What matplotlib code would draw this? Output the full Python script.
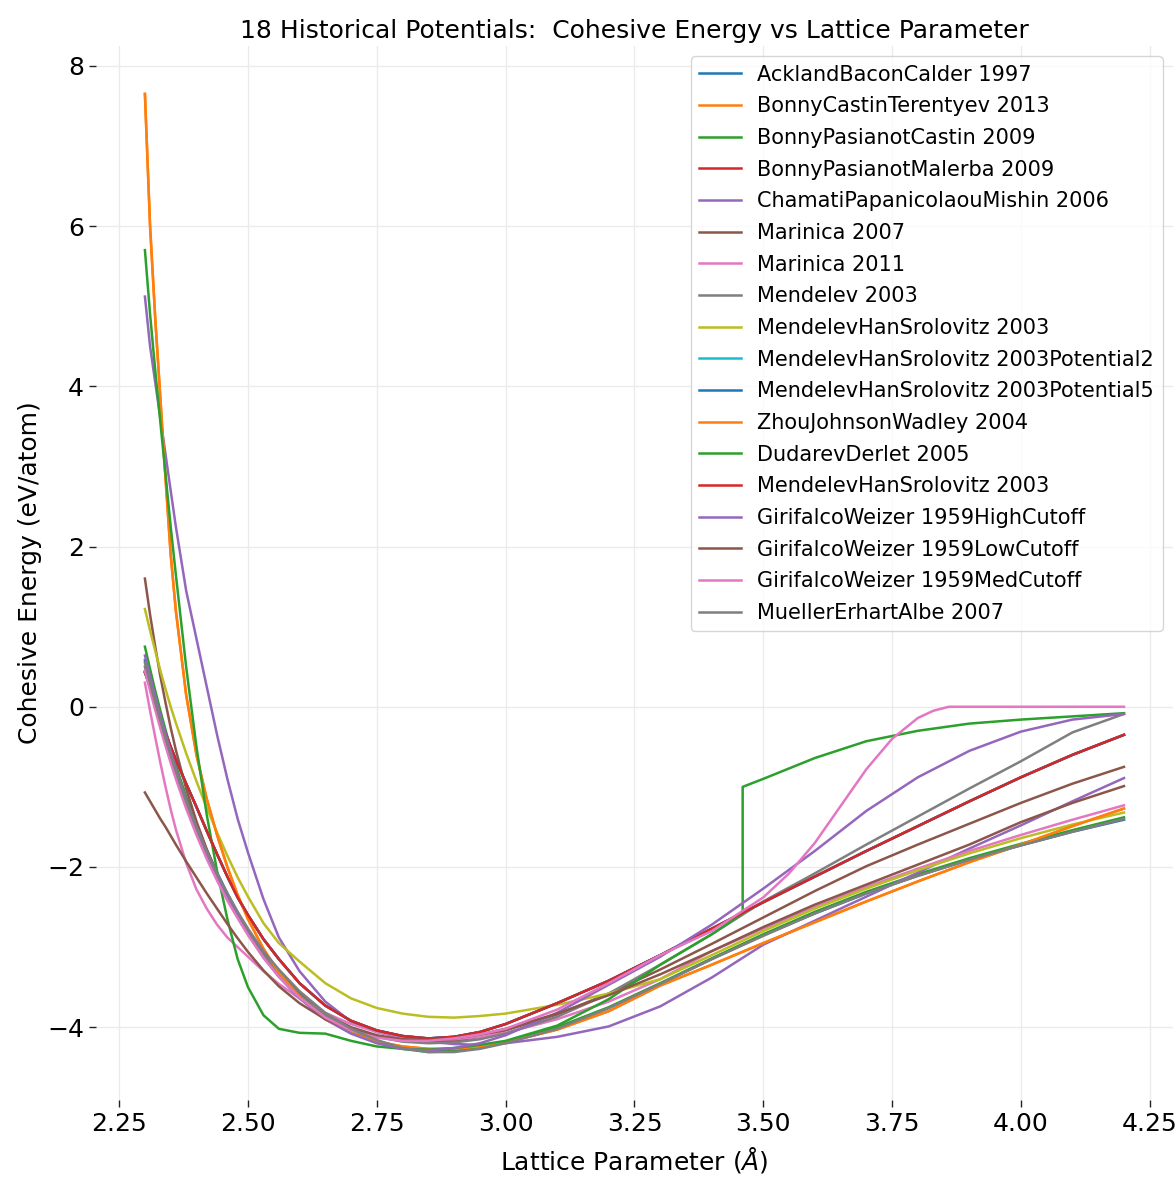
import numpy as np
import matplotlib
matplotlib.use("Agg")
import matplotlib.pyplot as plt

# lattice parameter grid (Angstrom) shared by most potentials
lattice = [2.30, 2.31, 2.32, 2.33, 2.34, 2.35, 2.36, 2.38, 2.40, 2.42, 2.44, 2.46, 2.48,
           2.50, 2.53, 2.56, 2.60, 2.65, 2.70, 2.75, 2.80, 2.85, 2.90, 2.95, 3.00,
           3.10, 3.20, 3.30, 3.40, 3.50, 3.60, 3.70, 3.80, 3.90, 4.00, 4.10, 4.20]

# cohesive energies (eV/atom)
ackland_1997 = [0.58, 0.32, 0.08, -0.15, -0.37, -0.58, -0.78, -1.15, -1.48, -1.79, -2.07, -2.33, -2.57,
                -2.78, -3.07, -3.31, -3.58, -3.84, -4.03, -4.17, -4.26, -4.30, -4.30, -4.26, -4.19,
                -4.01, -3.76, -3.46, -3.15, -2.85, -2.58, -2.33, -2.11, -1.91, -1.73, -1.56, -1.41]
bct_2013 = [7.65, 6.00, 4.85, 3.85, 2.85, 1.90, 1.20, 0.15, -0.60, -1.15, -1.60, -2.00, -2.35,
            -2.65, -3.02, -3.32, -3.62, -3.90, -4.07, -4.18, -4.24, -4.27, -4.27, -4.24, -4.19,
            -4.03, -3.80, -3.48, -3.22, -2.95, -2.69, -2.43, -2.18, -1.94, -1.72, -1.49, -1.27]
bpc_2009 = [0.75, 0.47, 0.20, -0.05, -0.29, -0.52, -0.73, -1.12, -1.47, -1.79, -2.08, -2.35, -2.59,
            -2.81, -3.10, -3.35, -3.62, -3.88, -4.06, -4.19, -4.27, -4.31, -4.30, -4.26, -4.19,
            -4.00, -3.75, -3.45, -3.14, -2.84, -2.56, -2.31, -2.09, -1.89, -1.71, -1.54, -1.38]
bpm_2009 = [0.43, 0.25, 0.05, -0.15, -0.33, -0.50, -0.66, -0.96, -1.25, -1.55, -1.84, -2.12, -2.38,
            -2.60, -2.90, -3.15, -3.45, -3.73, -3.92, -4.04, -4.11, -4.14, -4.12, -4.06, -3.96,
            -3.70, -3.42, -3.10, -2.77, -2.44, -2.12, -1.80, -1.49, -1.18, -0.88, -0.60, -0.35]
cpm_2006 = [5.12, 4.50, 4.05, 3.60, 3.15, 2.70, 2.25, 1.45, 0.85, 0.25, -0.35, -0.90, -1.40,
            -1.82, -2.40, -2.88, -3.30, -3.68, -3.93, -4.06, -4.14, -4.18, -4.21, -4.22, -4.20,
            -4.12, -3.99, -3.74, -3.38, -2.97, -2.67, -2.37, -2.07, -1.77, -1.48, -1.18, -0.89]
marinica_2007 = [1.60, 1.15, 0.75, 0.38, 0.05, -0.26, -0.54, -1.02, -1.43, -1.78, -2.08, -2.35, -2.59,
                 -2.80, -3.08, -3.32, -3.58, -3.83, -4.00, -4.10, -4.16, -4.18, -4.17, -4.12, -4.04,
                 -3.84, -3.58, -3.28, -2.96, -2.63, -2.30, -1.99, -1.72, -1.46, -1.20, -0.96, -0.75]
marinica_2011 = [0.30, -0.05, -0.38, -0.70, -1.00, -1.28, -1.53, -1.95, -2.28, -2.52, -2.72, -2.88, -3.00,
                 -3.12, -3.30, -3.46, -3.64, -3.82, -3.96, -4.06, -4.12, -4.15, -4.15, -4.12, -4.07,
                 -3.90, -3.68, -3.40, -3.05, -2.77, -2.50, -2.25, -2.02, -1.80, -1.60, -1.41, -1.23]
mendelev_2003 = [0.50, 0.25, 0.00, -0.24, -0.46, -0.67, -0.87, -1.24, -1.57, -1.87, -2.14, -2.39, -2.61,
                 -2.82, -3.10, -3.33, -3.60, -3.85, -4.02, -4.12, -4.18, -4.20, -4.19, -4.15, -4.08,
                 -3.87, -3.58, -3.22, -2.84, -2.43, -2.08, -1.72, -1.37, -1.02, -0.68, -0.32, -0.09]
mhs_2003 = [1.22, 0.95, 0.70, 0.45, 0.22, 0.00, -0.20, -0.58, -0.93, -1.26, -1.57, -1.86, -2.13,
            -2.37, -2.70, -2.95, -3.18, -3.45, -3.64, -3.76, -3.83, -3.87, -3.88, -3.86, -3.83,
            -3.72, -3.58, -3.40, -3.10, -2.80, -2.52, -2.27, -2.04, -1.83, -1.64, -1.47, -1.32]
mhs_2003_pot2 = bpm_2009
mhs_2003_pot5 = bpm_2009
zjw_2004 = bct_2013
mhs_2003b = bpm_2009
gw_1959_high = [0.64, 0.38, 0.13, -0.11, -0.34, -0.56, -0.77, -1.16, -1.50, -1.82, -2.11, -2.38, -2.62,
                -2.84, -3.13, -3.37, -3.64, -3.90, -4.08, -4.20, -4.27, -4.29, -4.26, -4.20, -4.10,
                -3.82, -3.47, -3.12, -2.72, -2.27, -1.80, -1.30, -0.88, -0.55, -0.31, -0.16, -0.09]
gw_1959_low = [-1.07, -1.18, -1.29, -1.40, -1.50, -1.61, -1.72, -1.93, -2.13, -2.33, -2.52, -2.71, -2.89,
               -3.06, -3.29, -3.49, -3.70, -3.90, -4.03, -4.11, -4.15, -4.16, -4.14, -4.09, -4.02,
               -3.83, -3.60, -3.34, -3.05, -2.75, -2.47, -2.22, -1.97, -1.72, -1.44, -1.20, -0.99]
mea_2007 = [0.55, 0.30, 0.06, -0.17, -0.39, -0.60, -0.80, -1.17, -1.50, -1.80, -2.08, -2.33, -2.56,
            -2.77, -3.05, -3.28, -3.55, -3.82, -4.02, -4.16, -4.26, -4.31, -4.31, -4.27, -4.20,
            -4.02, -3.76, -3.46, -3.15, -2.86, -2.58, -2.33, -2.11, -1.91, -1.73, -1.56, -1.40]

# Girifalco-Weizer medium cutoff: goes flat to zero near 3.85, own grid
gw_med_lattice = [2.30, 2.31, 2.32, 2.33, 2.34, 2.35, 2.36, 2.38, 2.40, 2.42, 2.44, 2.46, 2.48,
                  2.50, 2.53, 2.56, 2.60, 2.65, 2.70, 2.75, 2.80, 2.85, 2.90, 2.95, 3.00,
                  3.10, 3.20, 3.30, 3.40, 3.50, 3.55, 3.60, 3.65, 3.70, 3.75, 3.80, 3.83, 3.86,
                  3.90, 4.00, 4.10, 4.20]
gw_1959_med = [0.45, 0.20, -0.04, -0.27, -0.49, -0.70, -0.90, -1.27, -1.60, -1.90, -2.17, -2.42, -2.64,
               -2.85, -3.13, -3.37, -3.63, -3.88, -4.04, -4.13, -4.17, -4.17, -4.14, -4.09, -4.02,
               -3.78, -3.45, -3.10, -2.80, -2.38, -2.08, -1.70, -1.24, -0.78, -0.40, -0.14, -0.05, 0.00,
               0.00, 0.00, 0.00, 0.00]

# Dudarev-Derlet has a discontinuity at 3.46, so it keeps its own grid
dd_lattice = [2.30, 2.31, 2.32, 2.33, 2.34, 2.35, 2.36, 2.38, 2.40, 2.42, 2.44, 2.46, 2.48,
              2.50, 2.53, 2.56, 2.60, 2.65, 2.70, 2.75, 2.80, 2.85, 2.90, 2.95, 3.00,
              3.10, 3.20, 3.30, 3.40, 3.46, 3.46, 3.50, 3.60, 3.70, 3.80, 3.90, 4.00, 4.10, 4.20]
dd_2005 = [5.70, 4.90, 4.20, 3.55, 2.90, 2.25, 1.65, 0.50, -0.50, -1.35, -2.05, -2.65, -3.15,
           -3.50, -3.85, -4.02, -4.07, -4.08, -4.17, -4.24, -4.27, -4.28, -4.26, -4.22, -4.17,
           -3.98, -3.65, -3.22, -2.84, -2.58, -1.00, -0.90, -0.64, -0.43, -0.30, -0.21, -0.16, -0.12, -0.08]

labels = ["AcklandBaconCalder 1997", "BonnyCastinTerentyev 2013", "BonnyPasianotCastin 2009",
          "BonnyPasianotMalerba 2009", "ChamatiPapanicolaouMishin 2006", "Marinica 2007",
          "Marinica 2011", "Mendelev 2003", "MendelevHanSrolovitz 2003",
          "MendelevHanSrolovitz 2003Potential2", "MendelevHanSrolovitz 2003Potential5",
          "ZhouJohnsonWadley 2004", "DudarevDerlet 2005", "MendelevHanSrolovitz 2003",
          "GirifalcoWeizer 1959HighCutoff", "GirifalcoWeizer 1959LowCutoff",
          "GirifalcoWeizer 1959MedCutoff", "MuellerErhartAlbe 2007"]
series = [ackland_1997, bct_2013, bpc_2009, bpm_2009, cpm_2006, marinica_2007, marinica_2011,
          mendelev_2003, mhs_2003, mhs_2003_pot2, mhs_2003_pot5, zjw_2004, dd_2005, mhs_2003b,
          gw_1959_high, gw_1959_low, gw_1959_med, mea_2007]

fig = plt.figure(figsize=(11.76, 11.82), dpi=100)
ax = fig.add_axes([0.0816, 0.0694, 0.9158, 0.8917])

for lab, e in zip(labels, series):
    if e is dd_2005:
        xs = dd_lattice
    elif e is gw_1959_med:
        xs = gw_med_lattice
    else:
        xs = lattice
    ax.plot(xs, e, lw=1.8, label=lab)

for s in ax.spines.values():
    s.set_visible(False)
ax.grid(True, color='#ebebeb', lw=1)
ax.set_axisbelow(True)
ax.tick_params(labelsize=18, length=5, width=1, color='#222222')
ax.set_xticks(np.arange(2.25, 4.26, 0.25))
ax.set_xlabel('Lattice Parameter ($Å$)', fontsize=18, labelpad=7)
ax.set_ylabel('Cohesive Energy (eV/atom)', fontsize=18)
ax.set_title('18 Historical Potentials:  Cohesive Energy vs Lattice Parameter', fontsize=18)
ax.legend(loc='upper right', fontsize=15, edgecolor='#cccccc', labelspacing=0.56)

fig.savefig('out.png', dpi=100)
